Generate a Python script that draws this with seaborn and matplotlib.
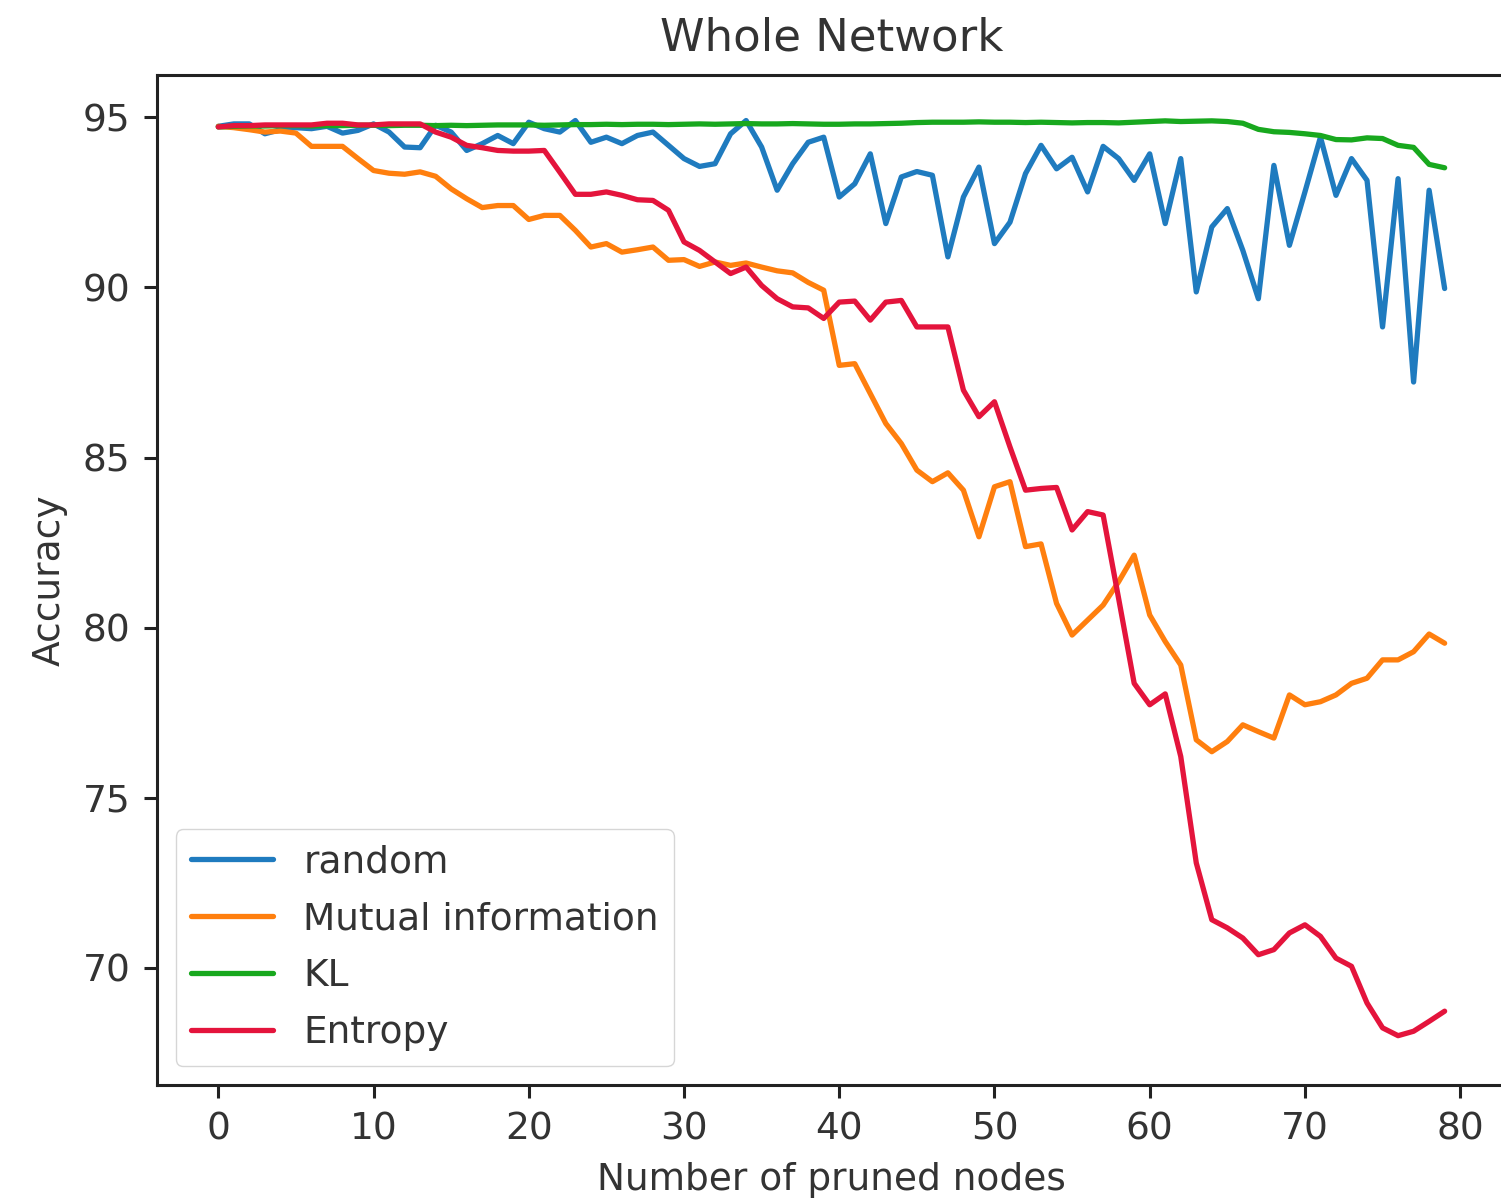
import numpy as np
import pandas as pd
import matplotlib
matplotlib.use("Agg")
import matplotlib.pyplot as plt
import seaborn as sns

# Accuracy after pruning n nodes, for each pruning criterion
pruned_nodes = list(range(80))

acc_random = [
    94.74, 94.81, 94.81, 94.52, 94.64, 94.70, 94.67, 94.74, 94.54, 94.62,
    94.81, 94.57, 94.13, 94.11, 94.77, 94.57, 94.03, 94.23, 94.47, 94.23,
    94.86, 94.67, 94.57, 94.91, 94.27, 94.42, 94.23, 94.47, 94.57, 94.18,
    93.79, 93.56, 93.64, 94.52, 94.91, 94.13, 92.86, 93.64, 94.27, 94.42,
    92.66, 93.05, 93.93, 91.88, 93.25, 93.41, 93.30, 90.90, 92.66, 93.54,
    91.29, 91.92, 93.35, 94.18, 93.49, 93.83, 92.81, 94.15, 93.79, 93.15,
    93.93, 91.88, 93.79, 89.87, 91.78, 92.32, 91.09, 89.67, 93.59, 91.24,
    92.81, 94.42, 92.71, 93.79, 93.15, 88.84, 93.20, 87.22, 92.86, 89.97,
]

acc_mutual_info = [
    94.74, 94.70, 94.64, 94.57, 94.60, 94.54, 94.15, 94.15, 94.15, 93.79,
    93.44, 93.36, 93.33, 93.40, 93.27, 92.90, 92.61, 92.35, 92.41, 92.41,
    92.00, 92.12, 92.12, 91.68, 91.19, 91.29, 91.04, 91.11, 91.19, 90.80,
    90.82, 90.62, 90.75, 90.65, 90.72, 90.60, 90.49, 90.43, 90.15, 89.92,
    87.71, 87.76, 86.88, 86.00, 85.41, 84.63, 84.29, 84.55, 84.04, 82.67,
    84.14, 84.29, 82.38, 82.46, 80.71, 79.78, 80.22, 80.66, 81.35, 82.13,
    80.37, 79.59, 78.90, 76.70, 76.35, 76.65, 77.14, 76.94, 76.75, 78.02,
    77.73, 77.82, 78.02, 78.36, 78.51, 79.05, 79.05, 79.29, 79.81, 79.54,
]

acc_kl = [
    94.72, 94.74, 94.75, 94.75, 94.76, 94.76, 94.75, 94.76, 94.76, 94.77,
    94.77, 94.76, 94.77, 94.77, 94.76, 94.77, 94.76, 94.77, 94.78, 94.78,
    94.78, 94.77, 94.78, 94.79, 94.79, 94.80, 94.79, 94.80, 94.80, 94.79,
    94.80, 94.81, 94.80, 94.81, 94.82, 94.81, 94.81, 94.82, 94.81, 94.80,
    94.80, 94.81, 94.81, 94.82, 94.83, 94.85, 94.86, 94.86, 94.86, 94.87,
    94.86, 94.86, 94.85, 94.86, 94.85, 94.84, 94.85, 94.85, 94.84, 94.86,
    94.88, 94.90, 94.88, 94.89, 94.90, 94.88, 94.83, 94.65, 94.58, 94.56,
    94.52, 94.47, 94.35, 94.34, 94.40, 94.38, 94.18, 94.12, 93.62, 93.52,
]

acc_entropy = [
    94.72, 94.76, 94.76, 94.78, 94.78, 94.78, 94.78, 94.83, 94.83, 94.78,
    94.78, 94.81, 94.81, 94.81, 94.57, 94.42, 94.18, 94.11, 94.03, 94.01,
    94.01, 94.03, 93.39, 92.74, 92.74, 92.81, 92.71, 92.58, 92.56, 92.27,
    91.34, 91.09, 90.75, 90.41, 90.60, 90.06, 89.67, 89.43, 89.40, 89.09,
    89.57, 89.60, 89.04, 89.57, 89.62, 88.84, 88.84, 88.84, 86.98, 86.20,
    86.64, 85.31, 84.04, 84.09, 84.12, 82.87, 83.41, 83.31, 80.85, 78.36,
    77.73, 78.05, 76.21, 73.08, 71.41, 71.17, 70.87, 70.38, 70.53, 71.02,
    71.26, 70.92, 70.28, 70.04, 68.96, 68.23, 68.00, 68.13, 68.42, 68.72,
]

series_names = ["random", "Mutual information", "KL", "Entropy"]
series_values = [acc_random, acc_mutual_info, acc_kl, acc_entropy]
series_colors = ["#1f7bbf", "#ff7f0e", "#18a81e", "#e4143c"]

sns.set_theme(style="ticks")
text_color = "#333333"
plt.rcParams.update({
    "font.family": ["DejaVu Sans"],
    "axes.edgecolor": "#222222",
    "axes.linewidth": 2.2,
    "xtick.color": "#222222",
    "ytick.color": "#222222",
    "xtick.labelcolor": text_color,
    "ytick.labelcolor": text_color,
    "xtick.major.size": 9.5,
    "ytick.major.size": 9.5,
    "xtick.major.width": 2.2,
    "ytick.major.width": 2.2,
    "xtick.major.pad": 9.5,
    "ytick.major.pad": 9.5,
    "xtick.labelsize": 27,
    "ytick.labelsize": 27,
    "axes.labelsize": 27,
    "axes.titlesize": 32.4,
    "axes.labelpad": 10.8,
    "axes.titlepad": 17.5,
    "legend.fontsize": 27,
})

fig = plt.figure(figsize=(15.01, 12.01), dpi=100)
ax = fig.add_axes([0.1046, 0.0966, 0.8987, 0.8410])

for name, values, color in zip(series_names, series_values, series_colors):
    df = pd.DataFrame({"nodes": pruned_nodes, "accuracy": values})
    sns.lineplot(data=df, x="nodes", y="accuracy", color=color,
                 linewidth=3.8, label=name, ax=ax)

ax.set_xlim(-3.95, 82.95)
ax.set_ylim(66.55, 96.25)
ax.set_xticks([0, 10, 20, 30, 40, 50, 60, 70, 80])
ax.set_yticks([70, 75, 80, 85, 90, 95])
ax.set_title("Whole Network", color=text_color)
ax.set_xlabel("Number of pruned nodes", color=text_color)
ax.set_ylabel("Accuracy", color=text_color)
for side in ["top", "right", "left", "bottom"]:
    ax.spines[side].set_visible(True)

leg = ax.legend(loc="lower left", frameon=True, fancybox=True,
                framealpha=0.8, edgecolor="#cccccc",
                labelspacing=0.56, handlelength=2.2, borderaxespad=0.5)
for t in leg.get_texts():
    t.set_color(text_color)

fig.savefig("out.png", dpi=100, facecolor="white")
